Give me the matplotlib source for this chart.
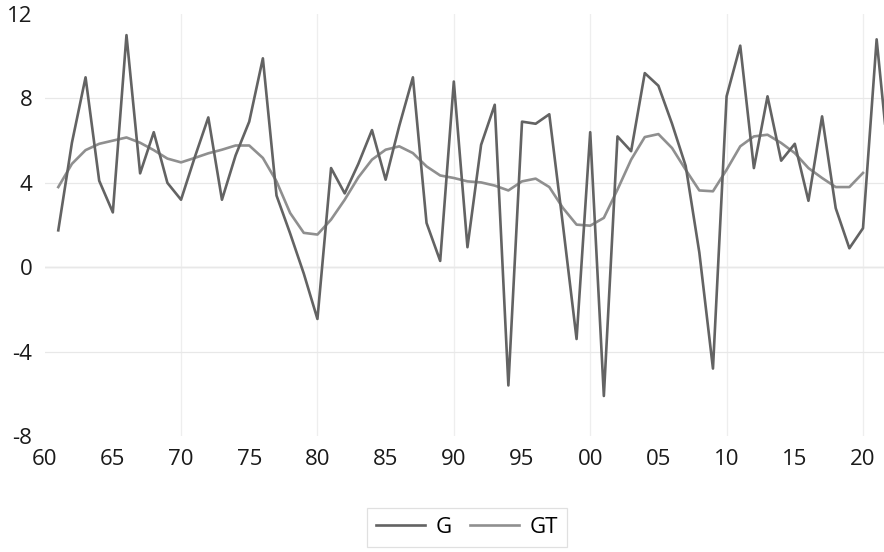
import numpy as np
import matplotlib
matplotlib.use("Agg")
from matplotlib import pyplot as plt
from matplotlib.ticker import MultipleLocator, FuncFormatter

plt.rcParams['font.family'] = ['Open Sans', 'DejaVu Sans']
plt.rcParams['axes.unicode_minus'] = False

# data
years_g = list(range(1961, 2023))
g = [1.75, 5.9, 9.0, 4.1, 2.6, 11.0, 4.45, 6.4, 4.0, 3.2,
     5.2, 7.1, 3.2, 5.3, 6.9, 9.9, 3.4, 1.6, -0.3, -2.45,
     4.7, 3.5, 4.9, 6.5, 4.15, 6.7, 9.0, 2.1, 0.3, 8.8,
     0.95, 5.8, 7.7, -5.6, 6.9, 6.8, 7.25, 2.0, -3.4, 6.4,
     -6.1, 6.2, 5.5, 9.2, 8.6, 6.8, 4.8, 0.7, -4.8, 8.1,
     10.5, 4.7, 8.1, 5.05, 5.85, 3.15, 7.15, 2.8, 0.9, 1.85,
     10.8, 4.3]

years_gt = list(range(1961, 2021))
gt = [3.8, 4.9, 5.55, 5.85, 6.0, 6.15, 5.9, 5.55, 5.15, 4.97,
      5.18, 5.4, 5.57, 5.77, 5.77, 5.18, 4.07, 2.57, 1.63, 1.55,
      2.26, 3.2, 4.26, 5.1, 5.57, 5.73, 5.41, 4.78, 4.35, 4.23,
      4.07, 4.02, 3.87, 3.64, 4.07, 4.2, 3.8, 2.81, 2.02, 1.97,
      2.34, 3.68, 5.1, 6.17, 6.31, 5.65, 4.62, 3.64, 3.6, 4.62,
      5.73, 6.2, 6.28, 5.89, 5.41, 4.7, 4.23, 3.8, 3.8, 4.47]

fig = plt.figure(figsize=(8.84, 5.52), dpi=100)
ax = fig.add_axes([0.0505, 0.21, 0.9495, 0.7646])

ax.plot(years_g, g, color='#636363', lw=1.9, label='G', zorder=3)
ax.plot(years_gt, gt, color='#8f8f8f', lw=1.9, label='GT', zorder=2)

ax.set_xlim(1960, 2021.54)
ax.set_ylim(-8, 12)
ax.set_yticks([-8, -4, 0, 4, 8, 12])
ax.xaxis.set_major_locator(MultipleLocator(10))
ax.xaxis.set_minor_locator(MultipleLocator(5))
fmt = FuncFormatter(lambda v, p: '%02d' % (int(round(v)) % 100))
ax.xaxis.set_major_formatter(fmt)
ax.xaxis.set_minor_formatter(fmt)

ax.grid(True, which='major', axis='x', color='#eeeeee', lw=0.9, zorder=0)
ax.grid(True, which='major', axis='y', color='#e8e8e8', lw=0.9, zorder=0)
fig.canvas.draw()
# no gridlines on the outer edges of the plot
for line, tick in zip(ax.xaxis.get_gridlines(), ax.get_xticks()):
    if tick <= 1960:
        line.set_visible(False)
for line, tick in zip(ax.yaxis.get_gridlines(), ax.get_yticks()):
    if tick in (-8, 12):
        line.set_visible(False)
ax.axhline(0, color='#d9d9d9', lw=1.0, zorder=1)
for s in ax.spines.values():
    s.set_visible(False)
ax.tick_params(which='both', length=0, labelsize=16, colors='#1a1a1a')
ax.tick_params(axis='x', which='both', pad=9)
ax.tick_params(axis='y', pad=9)

leg = fig.legend(loc='center', bbox_to_anchor=(467 / 884, 1 - 527.5 / 552),
                 ncol=2, fontsize=16, frameon=True, fancybox=False,
                 handlelength=2.2, handletextpad=0.5, columnspacing=0.8,
                 borderpad=0.4)
leg.get_frame().set_edgecolor('#d9d9d9')
leg.get_frame().set_linewidth(0.9)

fig.savefig('out.png', dpi=100)
